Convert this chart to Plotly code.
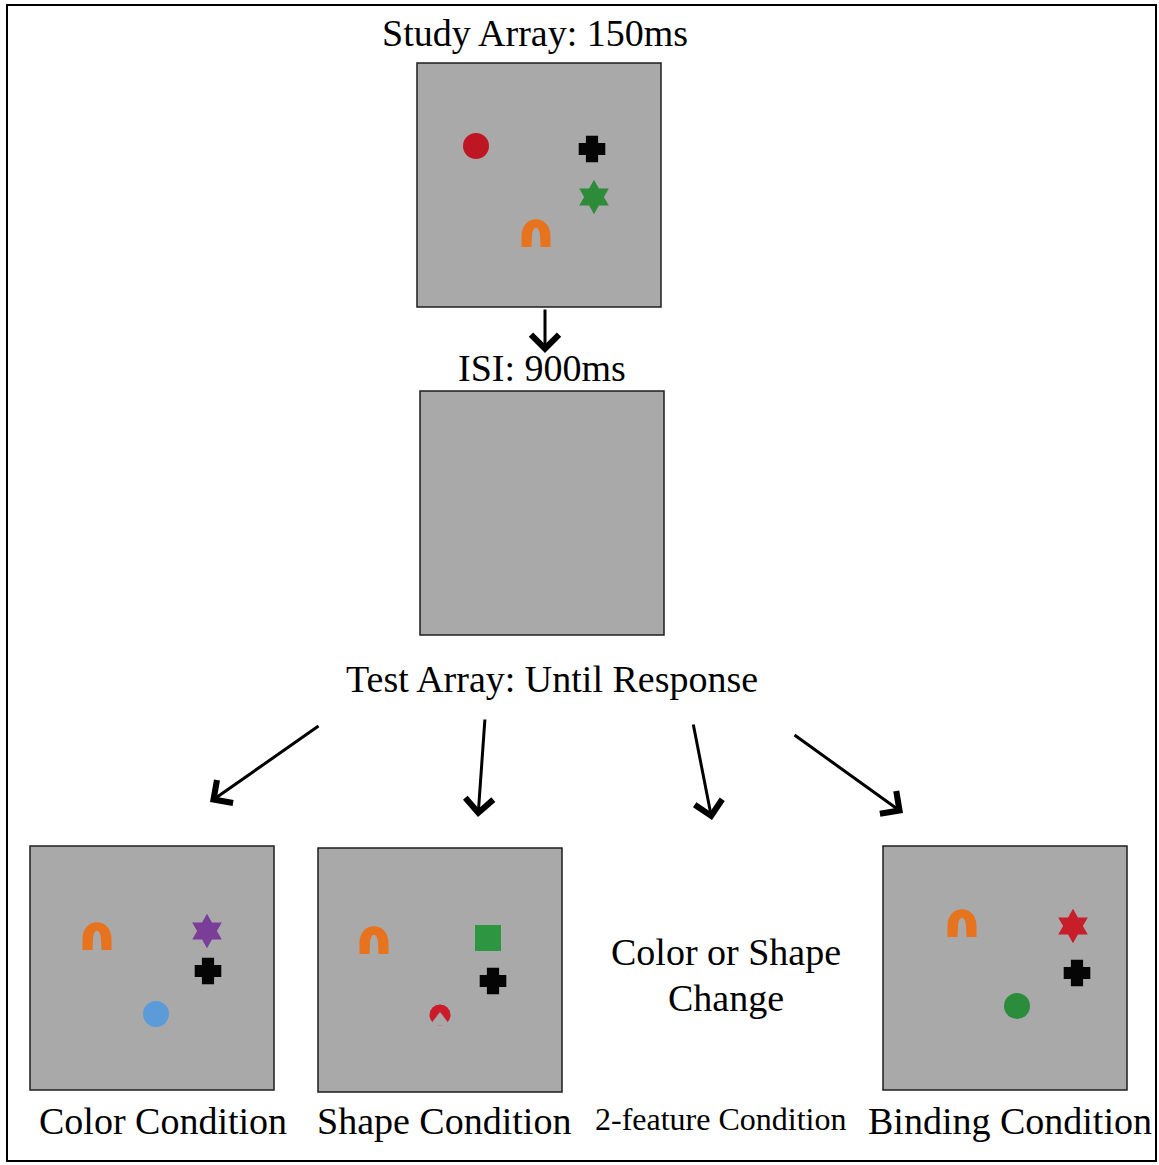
import plotly.graph_objects as go

# canvas in pixels, y grows downward
W, H = 1159, 1165

# grey display panels: top-left corners
panel_names = ["Study Array", "ISI", "Color", "Shape", "Binding"]
panel_x = [417, 420, 30, 318, 883]
panel_y = [63, 391, 846, 848, 846]
PANEL = 244

# stimuli drawn on the panels
stim_x = [476, 592, 594, 536, 97, 207, 208, 156, 374, 488, 493, 440, 962, 1073, 1077, 1017]
stim_y = [146, 149, 197, 233, 936, 931, 971, 1014, 940, 938, 981, 1015, 923, 926, 973, 1006]
stim_shape = ["circle", "cross", "star", "arch",
              "arch", "star", "cross", "circle",
              "arch", "square", "cross", "pacman",
              "arch", "star", "cross", "circle"]
stim_color = ["#BE1622", "#050505", "#2E8B3A", "#E8731F",
              "#E8731F", "#7A3D98", "#050505", "#5A9BD8",
              "#E8731F", "#2D9640", "#050505", "#CC1B2A",
              "#E8731F", "#C81E2A", "#050505", "#2B8C3C"]

# text labels
label_text = ["Study Array: 150ms", "ISI: 900ms", "Test Array: Until Response",
              "Color or Shape", "Change", "Color Condition", "Shape Condition",
              "2-feature Condition", "Binding Condition"]
label_x = [535, 542, 552, 726, 726, 163, 444, 720, 1010]
label_y = [33, 368, 679, 952, 998, 1121, 1121, 1119, 1121]
label_size = [38, 38, 38, 38, 38, 38, 38, 32, 38]

# arrows: start -> tip
arrow_x0 = [545, 320, 485, 693, 793]
arrow_y0 = [308, 725, 718, 723, 734]
arrow_x1 = [545, 210, 478, 712, 903]
arrow_y1 = [353, 802, 817, 820, 813]

GREY = "#A9A9A9"


def arch_path(cx, cy):
    # inverted U glyph with a narrow slit
    return (f"M{cx-14.5},{cy+14} L{cx-14.5},{cy+3} "
            f"C{cx-14.5},{cy-19.3} {cx+14.5},{cy-19.3} {cx+14.5},{cy+3} "
            f"L{cx+14.5},{cy+14} L{cx+4.5},{cy+14} L{cx+4},{cy+3} "
            f"C{cx+3.5},{cy-8} {cx-3.5},{cy-8} {cx-4},{cy+3} "
            f"L{cx-4.5},{cy+14} Z")


fig = go.Figure()

# outer frame
fig.add_shape(type="rect", x0=7, y0=5, x1=W - 3, y1=H - 4,
              line=dict(color="black", width=2), layer="below")

for px, py in zip(panel_x, panel_y):
    fig.add_shape(type="rect", x0=px, y0=py, x1=px + PANEL, y1=py + PANEL,
                  fillcolor=GREY, line=dict(color="#1e1e1e", width=1.5), layer="below")

# marker glyphs
symbol_map = {"circle": "circle", "cross": "cross", "star": "hexagram",
              "square": "square", "pacman": "circle"}
size_map = {"circle": 26, "cross": 18, "star": 26, "square": 26, "pacman": 21}

mx, my, msym, msize, mcol, mlw = [], [], [], [], [], []
for x, y, s, c in zip(stim_x, stim_y, stim_shape, stim_color):
    if s == "arch":
        fig.add_shape(type="path", path=arch_path(x, y), xref="x", yref="y",
                      fillcolor=c, line=dict(width=0), layer="above")
        continue
    mx.append(x)
    my.append(y)
    msym.append(symbol_map[s])
    msize.append(size_map[s])
    mcol.append(c)
    mlw.append(5 if s == "cross" else 0)

fig.add_trace(go.Scatter(
    x=mx, y=my, mode="markers",
    marker=dict(symbol=msym, size=msize, color=mcol, opacity=1,
                line=dict(width=mlw, color=mcol)),
    hoverinfo="skip", showlegend=False,
))

# notch cut into the pacman glyph
pac_x = [x for x, s in zip(stim_x, stim_shape) if s == "pacman"]
pac_y = [y + 6 for y, s in zip(stim_y, stim_shape) if s == "pacman"]
fig.add_trace(go.Scatter(
    x=pac_x, y=pac_y, mode="markers",
    marker=dict(symbol="triangle-up", size=18, color=GREY, opacity=1, line=dict(width=0)),
    hoverinfo="skip", showlegend=False,
))

for t, x, y, s in zip(label_text, label_x, label_y, label_size):
    fig.add_annotation(x=x, y=y, text=t, showarrow=False,
                       xanchor="center", yanchor="middle",
                       font=dict(family="Liberation Serif", size=s, color="black"))

for x0, y0, x1, y1 in zip(arrow_x0, arrow_y0, arrow_x1, arrow_y1):
    fig.add_annotation(x=x1, y=y1, ax=x0, ay=y0, xref="x", yref="y",
                       axref="x", ayref="y", text="", showarrow=True,
                       arrowhead=4, arrowsize=1.8, arrowwidth=3, arrowcolor="black")

fig.update_layout(
    width=W, height=H,
    margin=dict(l=0, r=0, t=0, b=0),
    paper_bgcolor="white", plot_bgcolor="white",
    xaxis=dict(range=[0, W], visible=False, fixedrange=True),
    yaxis=dict(range=[H, 0], visible=False, fixedrange=True),
    showlegend=False,
)

fig.write_html("out.html", config={"displayModeBar": False},
               post_script="document.body.style.margin='0';")
